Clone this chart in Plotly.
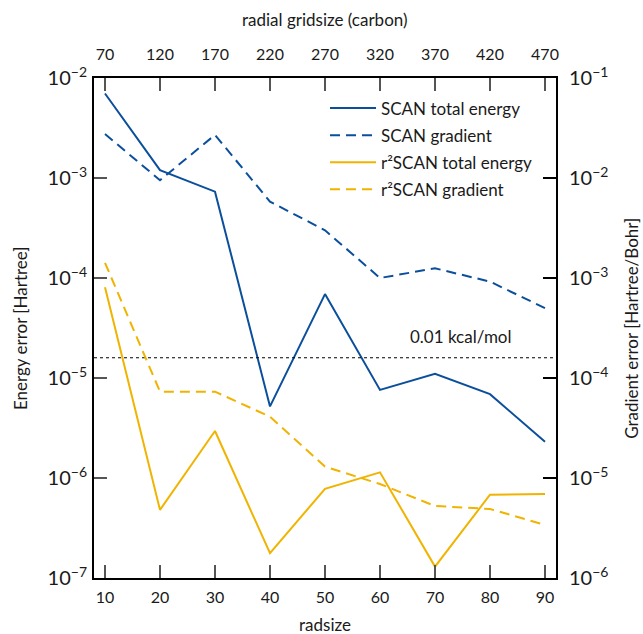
import math
import plotly.graph_objects as go

radsize = [10, 20, 30, 40, 50, 60, 70, 80, 90]
gridsize_ticks = [70, 120, 170, 220, 270, 320, 370, 420, 470]

scan_energy = [7.0e-3, 1.2e-3, 7.3e-4, 5.2e-6, 6.9e-5, 7.6e-6, 1.1e-5, 6.9e-6, 2.3e-6]
scan_gradient = [2.75e-2, 9.5e-3, 2.7e-2, 5.8e-3, 3.0e-3, 1.0e-3, 1.25e-3, 9.2e-4, 5.0e-4]
r2scan_energy = [8.1e-5, 4.8e-7, 2.95e-6, 1.77e-7, 7.8e-7, 1.14e-6, 1.3e-7, 6.8e-7, 6.9e-7]
r2scan_gradient = [1.42e-3, 7.3e-5, 7.3e-5, 4.1e-5, 1.3e-5, 8.7e-6, 5.25e-6, 4.9e-6, 3.4e-6]

kcal_threshold = 0.01 / 627.5095  # Hartree
x_range = [8, 92]
x2_range = [60, 480]

BLUE = "#0b4f9c"
YELLOW = "#f0b400"
FONT = "Lato"
TXT = "#1a1a1a"

fig = go.Figure()
series = [
    ("SCAN total energy", scan_energy, BLUE, None, "y"),
    ("SCAN gradient", scan_gradient, BLUE, "10px,6px", "y2"),
    ("r²SCAN total energy", r2scan_energy, YELLOW, None, "y"),
    ("r²SCAN gradient", r2scan_gradient, YELLOW, "10px,6px", "y2"),
]
for i, (name, vals, col, dash, yax) in enumerate(series):
    fig.add_trace(go.Scatter(x=radsize, y=vals, mode="lines", name=name, legendgroup=f"g{i}",
                             line=dict(color=col, width=2, dash=dash), xaxis="x", yaxis=yax))

# threshold reference line (0.01 kcal/mol)
fig.add_trace(go.Scatter(x=x_range, y=[kcal_threshold, kcal_threshold], mode="lines",
                         line=dict(color="black", width=1, dash="3px,3px"), showlegend=False,
                         hoverinfo="skip", xaxis="x", yaxis="y"))
# invisible trace to activate the top axis
fig.add_trace(go.Scatter(x=gridsize_ticks, y=[1e-3] * len(gridsize_ticks), mode="lines",
                         line=dict(width=0), opacity=0, showlegend=False, hoverinfo="skip",
                         xaxis="x2", yaxis="y"))

fig.add_annotation(x=74.7, y=math.log10(kcal_threshold), xref="x", yref="y", text="0.01 kcal/mol",
                   showarrow=False, yshift=21, xanchor="center",
                   font=dict(size=17, color=TXT, family=FONT))

title_font = dict(size=17, color=TXT, family=FONT)
for text, x, y, angle in [
    ("radsize", 0.5, -0.092, 0),
    ("radial gridsize (carbon)", 0.5, 1.116, 0),
    ("Energy error [Hartree]", -0.160, 0.5, -90),
    ("Gradient error [Hartree/Bohr]", 1.162, 0.5, -90),
]:
    fig.add_annotation(x=x, y=y, xref="paper", yref="paper", text=text, showarrow=False,
                       textangle=angle, xanchor="center", yanchor="middle", font=title_font)

axis_common = dict(showgrid=False, zeroline=False, ticks="inside", ticklen=13, tickwidth=1.5,
                   tickcolor="#555", showline=True, linecolor="black", linewidth=1.5,
                   automargin=False, tickfont=dict(size=16, color=TXT, family=FONT))

fig.update_layout(
    width=643, height=634,
    margin=dict(l=94, r=87, t=78, b=56),
    plot_bgcolor="white", paper_bgcolor="white",
    font=dict(family=FONT, size=16, color=TXT),
    showlegend=True,
    legend=dict(x=0.5, y=0.975, xanchor="left", yanchor="top", bgcolor="rgba(0,0,0,0)",
                font=dict(size=17, family=FONT, color=TXT), tracegroupgap=2, itemwidth=46),
    xaxis=dict(range=x_range, tickvals=radsize, ticklabelstandoff=4, **axis_common),
    xaxis2=dict(range=x2_range, tickvals=gridsize_ticks, overlaying="x", side="top", ticklabelstandoff=10,
                **axis_common),
    yaxis=dict(type="log", range=[-7, -2], dtick=1, exponentformat="power", ticklabelstandoff=2,
               **axis_common),
    yaxis2=dict(type="log", range=[-6, -1], dtick=1, exponentformat="power", overlaying="y", side="right",
                ticklabelstandoff=8, **{**axis_common, "tickcolor": "black", "tickwidth": 2}),
)

fig.write_html("out.html")
